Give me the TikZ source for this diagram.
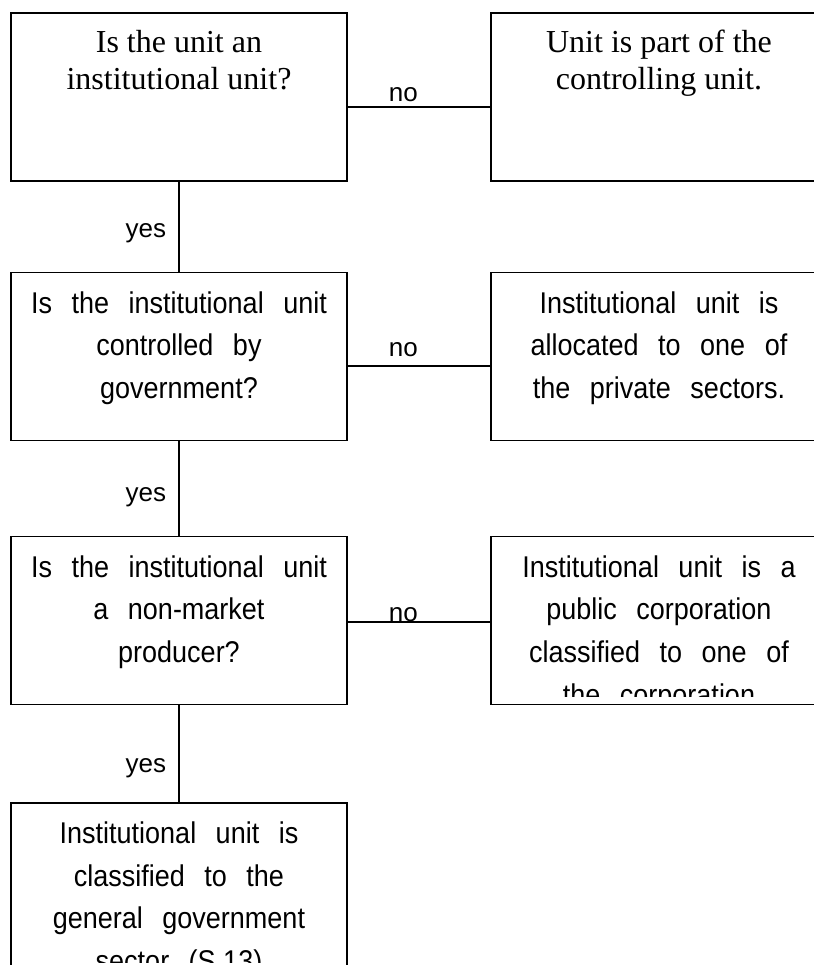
\documentclass[tikz,border=0pt]{standalone}
\usepackage{fontspec}
\setmainfont{Liberation Serif}
\newfontfamily\boxfont[FakeStretch=0.9,WordSpace=2.6]{Liberation Sans}
\newfontfamily\labelfont{Liberation Sans}
\tikzset{
	decision/.style={
		draw,
		line width=1.4pt,
		minimum width=252pt,
		minimum height=126pt,
		inner sep=0pt
	},
	sanstext/.style={anchor=north, inner sep=0pt, align=center,
		font=\boxfont\fontsize{22.5}{32}\selectfont},
	seriftext/.style={anchor=north, inner sep=0pt, align=center,
		font=\fontsize{24}{27.75}\selectfont},
	edge/.style={line width=1.4pt},
	answer/.style={inner sep=0pt, font=\labelfont\fontsize{19.5}{22}\selectfont}
}
% text of a box, cut off a little above its lower edge
\newcommand{\boxtext}[4]{%
	\begin{scope}
		\clip ([yshift=6.75pt]#1.south west) rectangle (#1.north east);
		\node[#2] (#1-text) at ([yshift=-#3]#1.north) {#4};
	\end{scope}}

\begin{document}
\begin{tikzpicture}[x=0.75pt,y=-0.75pt]
\clip (0,0) rectangle (814,965);

% questions
\node[decision] (q1) at (179,97) {};
\node[decision] (q2) at (179,356.5) {};
\node[decision] (q3) at (179,620.5) {};
\node[decision] (q4) at (179,887) {};
% outcomes
\node[decision] (a1) at (659,97) {};
\node[decision] (a2) at (659,356.5) {};
\node[decision] (a3) at (659,620.5) {};

\boxtext{q1}{seriftext}{13.5pt}{Is the unit an\\institutional unit?}
\boxtext{a1}{seriftext}{13.5pt}{Unit is part of the\\controlling unit.}
\boxtext{q2}{sanstext}{14.6pt}{Is the institutional unit\\controlled by\\government?}
\boxtext{a2}{sanstext}{14.6pt}{Institutional unit is\\allocated to one of\\the private sectors.}
\boxtext{q3}{sanstext}{14.6pt}{Is the institutional unit\\a non-market\\producer?}
\boxtext{a3}{sanstext}{14.6pt}{Institutional unit is a\\public corporation\\classified to one of\\the corporation}
\boxtext{q4}{sanstext}{14.6pt}{Institutional unit is\\classified to the\\general government\\sector (S.13)}

% yes
\draw[edge] (q1.south) -- node[answer, pos=.57, anchor=east, xshift=-9pt] (y1) {yes} (q2.north);
\draw[edge] (q2.south) -- node[answer, pos=.59, anchor=east, xshift=-9pt] (y2) {yes} (q3.north);
\draw[edge] (q3.south) -- node[answer, pos=.65, anchor=east, xshift=-9pt] (y3) {yes} (q4.north);
% no
\draw[edge] ([yshift=-7.5pt]q1.east) -- node[answer, pos=.39, anchor=base, yshift=4.5pt] (n1) {no} ([yshift=-7.5pt]a1.west);
\draw[edge] ([yshift=-7pt]q2.east) -- node[answer, pos=.39, anchor=base, yshift=6.75pt] (n2) {no} ([yshift=-7pt]a2.west);
\draw[edge] ([yshift=-1pt]q3.east) -- node[answer, pos=.39, anchor=base] (n3) {no} ([yshift=-1pt]a3.west);
\end{tikzpicture}
\end{document}
